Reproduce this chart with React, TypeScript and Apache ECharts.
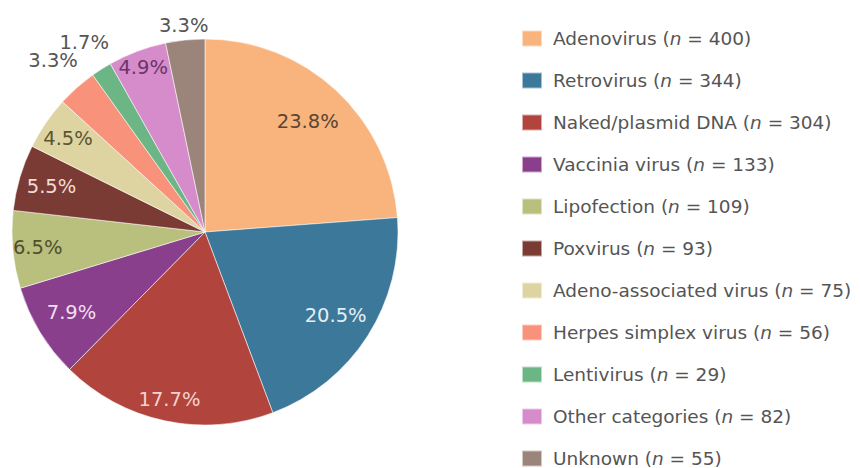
import React, { useEffect, useRef } from "react";
import * as echarts from "echarts";

const categories = [
  "Adenovirus",
  "Retrovirus",
  "Naked/plasmid DNA",
  "Vaccinia virus",
  "Lipofection",
  "Poxvirus",
  "Adeno-associated virus",
  "Herpes simplex virus",
  "Lentivirus",
  "Other categories",
  "Unknown",
];
const counts = [400, 344, 304, 133, 109, 93, 75, 56, 29, 82, 55];
const percentLabels = ["23.8%", "20.5%", "17.7%", "7.9%", "6.5%", "5.5%", "4.5%", "3.3%", "1.7%", "4.9%", "3.3%"];

// styles
const colors = ["#F9B37C", "#3B7899", "#B1443D", "#8A3F8C", "#B9BF7C", "#7B3B35", "#DED4A2", "#F8927A", "#6CB585", "#D68BCB", "#9B857B"];
const labelColors = ["#5a4634", "#e6eef5", "#f5d3cc", "#efdff0", "#4e4f2c", "#f2dcd6", "#5b5532", "#555555", "#555555", "#6b356a", "#555555"];
const labelRadius = [148, 152, 168, 153, 165, 157, 163, 226, 222, 173, 205];

const PIE_R = 193;
const FONT = "DejaVu Sans";

export default function App() {
  const ref = useRef<HTMLDivElement>(null);
  useEffect(() => {
    if (!ref.current) return;
    const chart = echarts.init(ref.current, null, { renderer: "svg" });
    const total = counts.reduce((a, b) => a + b, 0);
    const mids: number[] = [];
    let cum = 0;
    counts.forEach((c) => {
      mids.push(((cum + c / 2) / total) * Math.PI * 2);
      cum += c;
    });
    chart.setOption({
      animation: false,
      backgroundColor: "#ffffff",
      legend: {
        orient: "vertical",
        left: 521,
        top: 29,
        height: 700,
        padding: 0,
        itemWidth: 20,
        itemHeight: 16,
        itemGap: 23,
        icon: "rect",
        selectedMode: false,
        data: categories,
        formatter: (name: string) => {
          const i = categories.indexOf(name);
          return `{t|${name} (}{i|n}{t| = ${counts[i]})}`;
        },
        textStyle: {
          padding: [0, 0, 0, 6],
          rich: {
            t: { fontFamily: FONT, fontSize: 18.5, color: "#555555", lineHeight: 16 },
            i: { fontFamily: FONT, fontSize: 18.5, color: "#555555", lineHeight: 16, fontStyle: "italic" },
          },
        },
      },
      series: [
        {
          type: "pie",
          center: [205, 232],
          radius: [0, PIE_R],
          startAngle: 90,
          clockwise: true,
          avoidLabelOverlap: false,
          silent: true,
          itemStyle: { borderColor: "rgba(255,255,255,0.55)", borderWidth: 1 },
          label: {
            show: true,
            position: "inside",
            fontFamily: FONT,
            fontSize: 19.5,
            formatter: (p: any) => percentLabels[p.dataIndex],
          },
          labelLine: { show: false },
          labelLayout: (params: any) => {
            const i = params.dataIndex;
            const th = mids[i];
            const d = labelRadius[i] - PIE_R / 2;
            return { dx: d * Math.sin(th), dy: -d * Math.cos(th) };
          },
          emphasis: { disabled: true },
          data: categories.map((name, i) => ({
            name,
            value: counts[i],
            itemStyle: { color: colors[i] },
            label: { color: labelColors[i] },
          })),
        },
      ],
    });
    return () => chart.dispose();
  }, []);
  return (
    <div
      ref={ref}
      style={{ position: "fixed", left: 0, top: 0, width: 860, height: 468, background: "#fff" }}
    />
  );
}
